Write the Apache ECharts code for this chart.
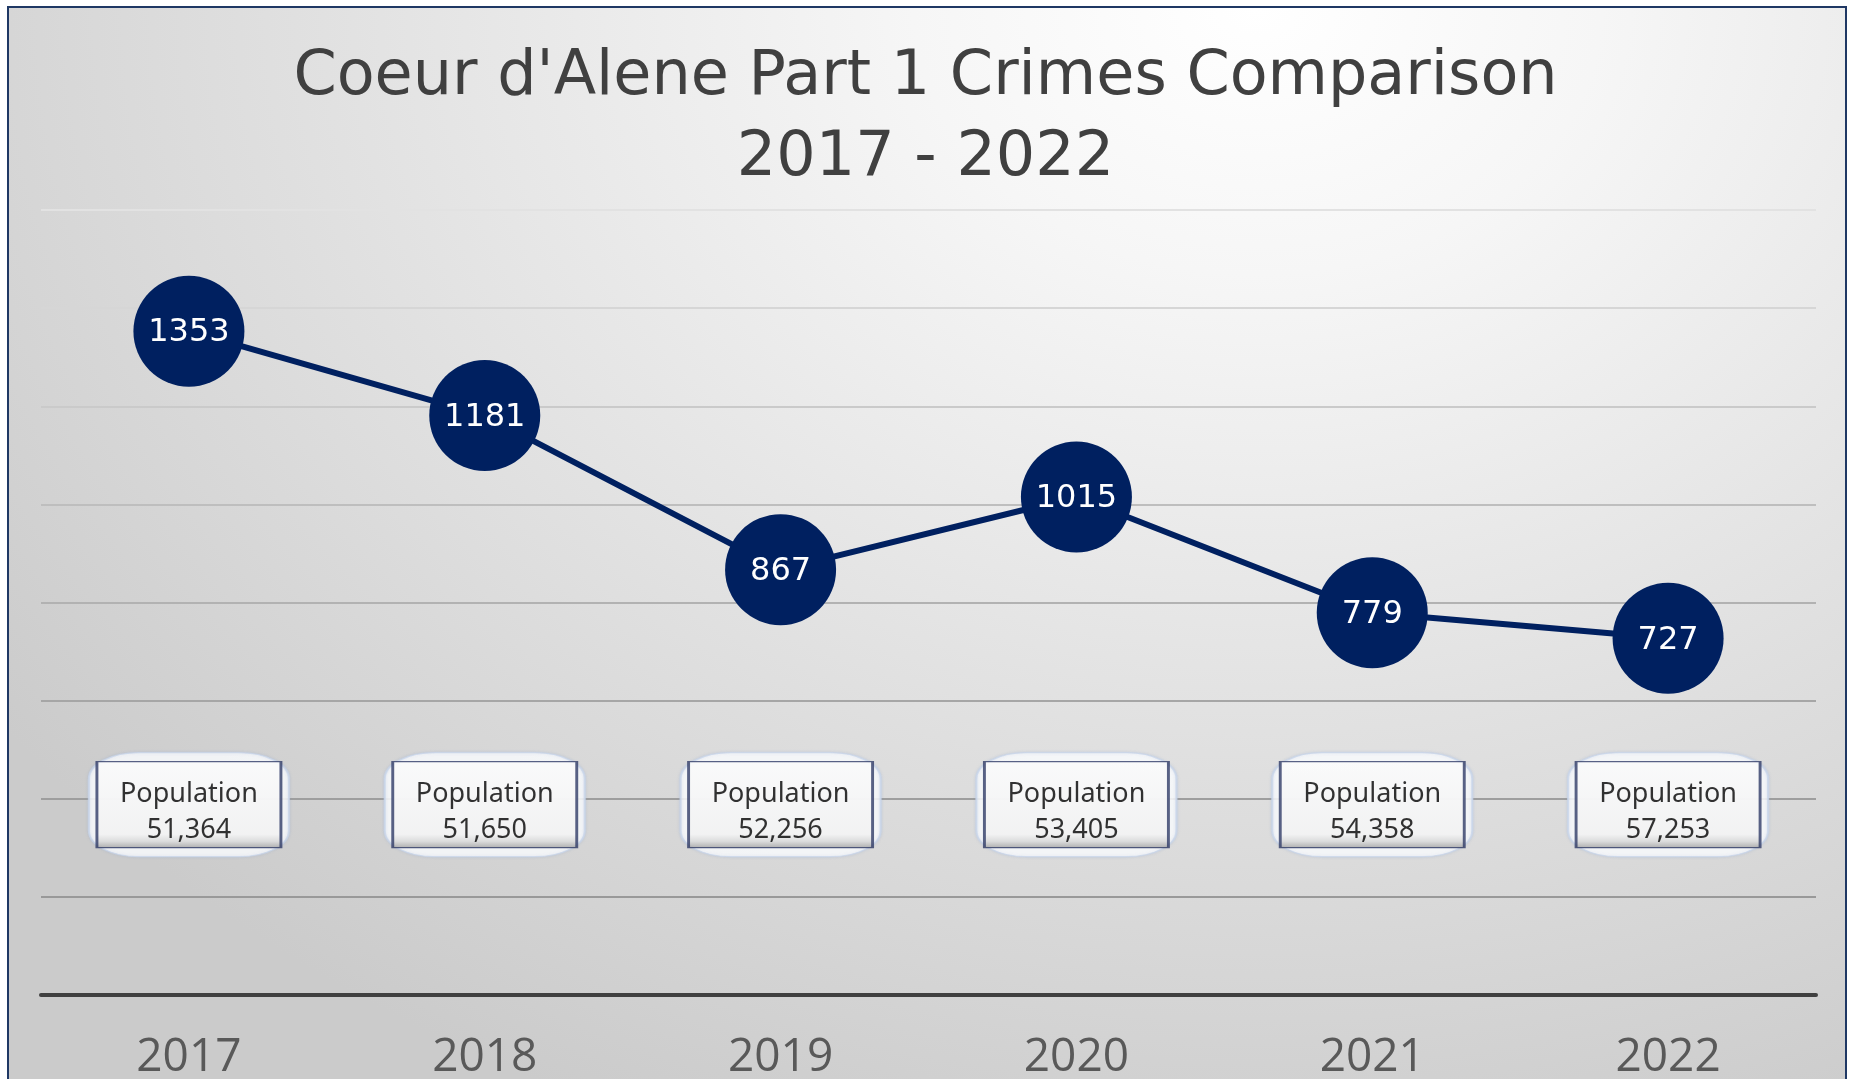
<!DOCTYPE html>
<html>
<head>
<meta charset="utf-8">
<script src="https://cdn.jsdelivr.net/npm/echarts@6/dist/echarts.min.js"></script>
<style>
html,body{margin:0;padding:0;background:#ffffff;overflow:hidden;}
#frame{position:absolute;left:7px;top:6px;width:1836px;height:1100px;border:2px solid #1f3864;
background:radial-gradient(ellipse 85% 110% at 68% 0%, #ffffff 0%, #f6f6f6 22%, #e2e2e2 58%, #cbcbcb 100%);}
#chart{position:absolute;left:0;top:0;width:1851px;height:1079px;}
</style>
</head>
<body>
<div id="frame"></div>
<div id="chart"></div>
<script>
const titleLines = ["Coeur d'Alene Part 1 Crimes Comparison", "2017 - 2022"];
const years = ["2017", "2018", "2019", "2020", "2021", "2022"];
const crimes = [1353, 1181, 867, 1015, 779, 727];
const population = ["51,364", "51,650", "52,256", "53,405", "54,358", "57,253"];
const yTicks = [0, 200, 400, 600, 800, 1000, 1200, 1400, 1600];

const NAVY = '#002060';
const POP_LEVEL = 388;
const popData = population.map((p, i) => ({value: [i, POP_LEVEL], pop: p}));

const chart = echarts.init(document.getElementById('chart'), null, {renderer: 'canvas'});
chart.setOption({
  backgroundColor: 'transparent',
  animation: false,
  title: {
    text: titleLines.join('\n'),
    left: 'center',
    top: 32,
    textStyle: {
      fontFamily: 'DejaVu Sans',
      fontSize: 62,
      fontWeight: 'normal',
      color: '#404040',
      lineHeight: 81
    }
  },
  grid: {left: 41, right: 35, top: 210, bottom: 84, containLabel: false, outerBoundsMode: 'none'},
  xAxis: {
    type: 'category',
    data: years,
    boundaryGap: true,
    axisLine: {show: true, lineStyle: {color: '#404040', width: 4}},
    axisTick: {show: false},
    axisLabel: {
      margin: 40,
      fontFamily: 'Open Sans',
      fontSize: 46,
      color: '#595959'
    },
    splitLine: {show: false}
  },
  yAxis: {
    type: 'value',
    min: yTicks[0],
    max: yTicks[yTicks.length - 1],
    interval: yTicks[1] - yTicks[0],
    axisLabel: {show: false},
    axisLine: {show: false},
    axisTick: {show: false},
    splitLine: {
      show: true,
      lineStyle: {
        width: 2,
        color: ['#404040', '#999999', '#9e9e9e', '#a6a6a6', '#b2b2b2', '#bebebe', '#cacaca', '#d6d6d6', '#e2e2e2']
      }
    }
  },
  series: [
    {
      type: 'line',
      data: crimes,
      symbol: 'circle',
      symbolSize: 111,
      z: 4,
      lineStyle: {color: NAVY, width: 6},
      itemStyle: {color: NAVY},
      label: {
        show: true,
        position: 'inside',
        color: '#ffffff',
        fontFamily: 'DejaVu Sans',
        fontSize: 32,
        offset: [0, 2]
      }
    },
    {
      type: 'scatter',
      data: popData,
      symbol: 'roundRect',
      symbolSize: [200, 104],
      z: 2,
      silent: true,
      itemStyle: {
        color: '#ffffff',
        borderColor: '#c9d6ea',
        borderWidth: 1.5,
        shadowColor: 'rgba(140,165,210,0.35)',
        shadowBlur: 3
      }
    },
    {
      type: 'scatter',
      data: popData,
      symbol: 'rect',
      symbolSize: [184, 86],
      z: 3,
      itemStyle: {
        color: new echarts.graphic.LinearGradient(0, 0, 0, 1, [
          {offset: 0, color: '#fcfcfc'},
          {offset: 0.84, color: '#f2f2f2'},
          {offset: 0.92, color: '#d6d6d6'},
          {offset: 1, color: '#9a9a9a'}
        ]),
        borderColor: '#2f3b66',
        borderWidth: 2
      },
      label: {
        show: true,
        position: 'inside',
        offset: [0, 8],
        formatter: (p) => 'Population\n' + p.data.pop,
        fontFamily: 'Noto Sans',
        fontSize: 27,
        lineHeight: 36,
        color: '#000000',
        align: 'center',
        verticalAlign: 'middle'
      }
    }
  ]
});
</script>
</body>
</html>
